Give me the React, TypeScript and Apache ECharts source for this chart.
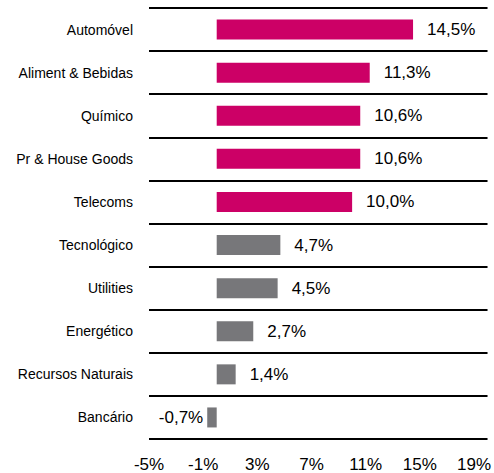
import React, { useEffect, useRef } from "react";
import * as echarts from "echarts";

const categories = [
  "Automóvel",
  "Aliment & Bebidas",
  "Químico",
  "Pr & House Goods",
  "Telecoms",
  "Tecnológico",
  "Utilities",
  "Energético",
  "Recursos Naturais",
  "Bancário",
];
const values = [14.5, 11.3, 10.6, 10.6, 10.0, 4.7, 4.5, 2.7, 1.4, -0.7];
const highlighted = [true, true, true, true, true, false, false, false, false, false];

const PINK = "#CC0066";
const GRAY = "#77777A";
const FONT = "'Liberation Sans', Arial, sans-serif";

const fmt = (v: number) => v.toFixed(1).replace(".", ",") + "%";

export default function App() {
  const ref = useRef<HTMLDivElement>(null);
  useEffect(() => {
    document.body.style.margin = "0";
    if (!ref.current) return;
    const chart = echarts.init(ref.current, null, { renderer: "svg" });
    chart.setOption({
      animation: false,
      grid: { left: 149, right: 4, top: 8, bottom: 34, containLabel: false },
      xAxis: {
        type: "value",
        min: -5,
        max: 20,
        interval: 4,
        axisLine: { show: false },
        axisTick: { show: false },
        splitLine: { show: false },
        axisLabel: {
          showMaxLabel: false,
          formatter: (v: number) => v + "%",
          fontFamily: FONT,
          fontSize: 17,
          color: "#000",
          margin: 17,
        },
      },
      yAxis: {
        type: "category",
        inverse: true,
        data: categories,
        axisLine: { show: false },
        axisTick: { show: false },
        splitLine: { show: true, interval: 0, lineStyle: { color: "#000", width: 2 } },
        axisLabel: {
          fontFamily: FONT,
          fontSize: 14,
          color: "#000",
          margin: 16,
          interval: 0,
        },
      },
      series: [
        {
          type: "bar",
          barWidth: 20,
          data: values.map((v, i) => ({
            value: v,
            itemStyle: { color: highlighted[i] ? PINK : GRAY },
            label: {
              show: true,
              position: v < 0 ? "left" : "right",
              distance: v < 0 ? 4 : 14,
              formatter: () => fmt(v),
              fontFamily: FONT,
              fontSize: 17,
              color: "#000",
            },
          })),
        },
      ],
    });
    return () => chart.dispose();
  }, []);
  return <div ref={ref} style={{ width: 494, height: 473 }} />;
}
